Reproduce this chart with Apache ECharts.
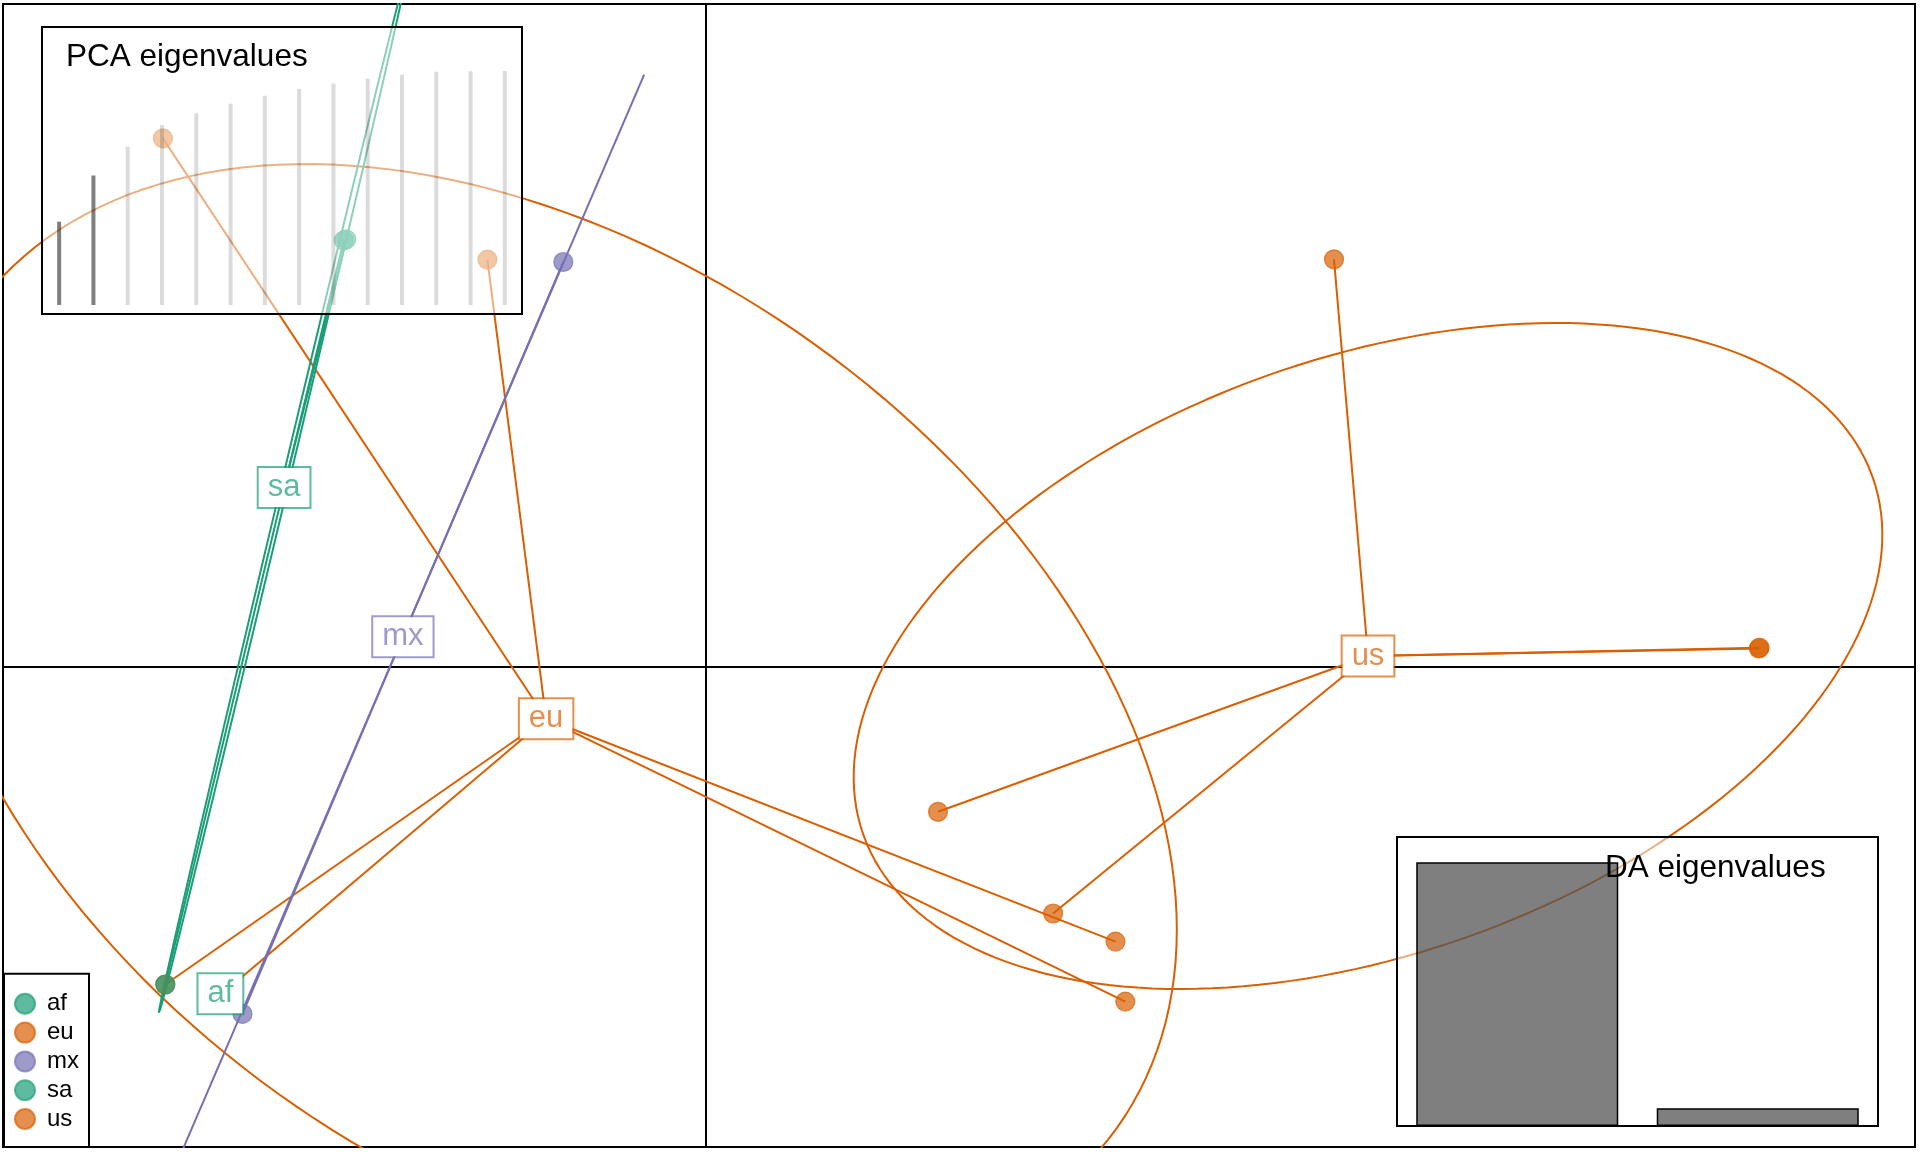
<!DOCTYPE html>
<html><head><meta charset="utf-8">
<script src="https://cdn.jsdelivr.net/npm/echarts/dist/echarts.min.js"></script>
<style>html,body{margin:0;padding:0;background:#fff}#c{width:1920px;height:1152px}</style>
</head><body><div id="c"></div>
<script>
// ---------------- data ----------------
const groups = ['af', 'eu', 'mx', 'sa', 'us'];
const groupColors = ['#1B9E77', '#D95F02', '#7570B3', '#1B9E77', '#D95F02'];

// discriminant function scores (LD1, LD2) of individuals, by group
const pointsAF = [[-4.849, -3.272]];
const pointsEU = [[-5.424, 5.281], [-2.179, 4.069], [-5.400, -3.180], [-4.837, -3.278], [4.102, -2.751], [4.200, -3.351]];
const pointsMX = [[-1.420, 4.045], [-4.628, -3.474]];
const pointsSA = [[-3.590, 4.272], [-3.615, 4.262], [-5.400, -3.180]];
const pointsUS = [[6.287, 4.072], [10.535, 0.180], [10.543, 0.188], [2.327, -1.453], [3.478, -2.470]];

// group centroids
const centroids = [[-4.849, -3.272], [-1.592, -0.523], [-3.024, 0.298], [-4.212, 1.791], [6.627, 0.105]];

// inertia ellipses: semi-major, semi-minor, angle (degrees)
const ellipseMajor = [0, 7.023, 6.116, 5.41, 5.354];
const ellipseMinor = [0, 4.608, 0, 0.035, 2.98];
const ellipseAngle = [0, -35.65, 66.77, 76.6, 19.53];

// PCA eigenvalues inset: cumulative variance (%), number of retained PCs
const pcaCumVar = [35.6, 55.3, 67.6, 76.9, 81.9, 86.0, 89.4, 92.3, 94.7, 96.7, 98.4, 99.7, 99.9, 100.0];
const pcaRetained = 2;
// DA eigenvalues inset
const daEigen = [100, 6.75];

// ---------------- chart ----------------
const FONT = '"Liberation Sans", Arial, Helvetica, sans-serif';
const groupPoints = [pointsAF, pointsEU, pointsMX, pointsSA, pointsUS];

function transp(hex, a) {
  const r = parseInt(hex.slice(1, 3), 16), g = parseInt(hex.slice(3, 5), 16), b = parseInt(hex.slice(5, 7), 16);
  return 'rgba(' + r + ',' + g + ',' + b + ',' + a + ')';
}
function ellipsePath(c, A, B, angDeg) {
  const th = angDeg * Math.PI / 180, ct = Math.cos(th), st = Math.sin(th);
  const out = [];
  for (let i = 0; i <= 200; i++) {
    const t = 2 * Math.PI * i / 200;
    out.push([c[0] + A * Math.cos(t) * ct - B * Math.sin(t) * st,
              c[1] + A * Math.cos(t) * st + B * Math.sin(t) * ct]);
  }
  return out;
}

const series = [];
// ellipses
groups.forEach((g, i) => {
  if (ellipseMajor[i] <= 0) return;
  series.push({
    type: 'line', name: g + '-ellipse', xAxisIndex: 0, yAxisIndex: 0,
    data: ellipsePath(centroids[i], ellipseMajor[i], ellipseMinor[i], ellipseAngle[i]),
    showSymbol: false, symbol: 'none', smooth: false, clip: true, silent: true,
    lineStyle: { color: groupColors[i], width: 2 }, z: 1
  });
});
// stars (centroid -> individuals)
groups.forEach((g, i) => {
  series.push({
    type: 'lines', name: g + '-star', coordinateSystem: 'cartesian2d', xAxisIndex: 0, yAxisIndex: 0,
    data: groupPoints[i].map(p => ({ coords: [centroids[i], p] })),
    lineStyle: { color: groupColors[i], width: 2, opacity: 1, curveness: 0 },
    silent: true, z: 1
  });
});
// individuals
groups.forEach((g, i) => {
  series.push({
    type: 'scatter', name: g, xAxisIndex: 0, yAxisIndex: 0,
    data: groupPoints[i], symbol: 'circle', symbolSize: 19,
    itemStyle: { color: transp(groupColors[i], 0.7), borderColor: transp(groupColors[i], 0.7), borderWidth: 1.2, opacity: 1 },
    silent: true, z: 2
  });
});
// group labels
series.push({
  type: 'scatter', name: 'labels', xAxisIndex: 0, yAxisIndex: 0,
  symbolSize: 1, itemStyle: { color: 'rgba(0,0,0,0)', opacity: 1 }, silent: true, z: 3,
  data: groups.map((g, i) => ({
    value: centroids[i],
    label: {
      show: true, position: 'inside', formatter: g,
      fontFamily: FONT, fontSize: 31, lineHeight: 31,
      color: transp(groupColors[i], 0.7),
      backgroundColor: '#fff', borderColor: transp(groupColors[i], 0.7), borderWidth: 2,
      padding: [4, 9, 4, 9]
    }
  }))
});
// PCA inset bars
series.push({
  type: 'bar', name: 'pca', xAxisIndex: 1, yAxisIndex: 1, barWidth: 4, silent: true, z: 6,
  data: pcaCumVar.map((v, i) => ({ value: v, itemStyle: { color: i < pcaRetained ? 'rgba(0,0,0,0.5)' : 'rgba(0,0,0,0.14)' } }))
});
// DA inset bars
series.push({
  type: 'bar', name: 'da', xAxisIndex: 2, yAxisIndex: 2, barWidth: '84%', silent: true, z: 6,
  data: daEigen,
  itemStyle: { color: 'rgba(0,0,0,0.5)', borderColor: '#000', borderWidth: 1.5 }
});

const hidden = { axisLine: { show: false }, axisTick: { show: false }, axisLabel: { show: false }, splitLine: { show: false } };

const option = {
  animation: false,
  backgroundColor: '#fff',
  grid: [
    { left: 3, top: 4, width: 1912, height: 1143, show: true, borderColor: '#000', borderWidth: 2, backgroundColor: 'transparent', z: 0, containLabel: false },
    { left: 42, top: 27, width: 480, height: 287, show: true, borderColor: '#000', borderWidth: 2, backgroundColor: 'rgba(255,255,255,0.5)', z: 5, containLabel: false },
    { left: 1397, top: 837, width: 481, height: 289, show: true, borderColor: '#000', borderWidth: 2, backgroundColor: 'rgba(255,255,255,0.5)', z: 5, containLabel: false }
  ],
  xAxis: [
    { type: 'value', gridIndex: 0, min: -7.023, max: 12.097, axisLine: { show: true, onZero: true, lineStyle: { color: '#000', width: 2 } }, axisTick: { show: false }, axisLabel: { show: false }, splitLine: { show: false }, z: 0 },
    Object.assign({ type: 'category', gridIndex: 1, data: pcaCumVar.map((v, i) => String(i + 1)) }, hidden),
    Object.assign({ type: 'category', gridIndex: 2, data: daEigen.map((v, i) => String(i + 1)) }, hidden)
  ],
  yAxis: [
    { type: 'value', gridIndex: 0, min: -4.805, max: 6.625, axisLine: { show: true, onZero: true, lineStyle: { color: '#000', width: 2 } }, axisTick: { show: false }, axisLabel: { show: false }, splitLine: { show: false }, z: 0 },
    Object.assign({ type: 'value', gridIndex: 1, min: -3.846, max: 118.8 }, hidden),
    Object.assign({ type: 'value', gridIndex: 2, min: 0, max: 109.6 }, hidden)
  ],
  title: [
    { text: 'PCA eigenvalues', left: 66, top: 41, padding: 0, z: 7, textStyle: { fontFamily: FONT, fontSize: 31.5, fontWeight: 'normal', color: '#000' } },
    { text: 'DA eigenvalues', left: 1605, top: 852, padding: 0, z: 7, textStyle: { fontFamily: FONT, fontSize: 31.5, fontWeight: 'normal', color: '#000' } }
  ],
  legend: {
    data: groups, orient: 'vertical', left: 4, bottom: 5, height: 150,
    itemWidth: 20, itemHeight: 20, itemGap: 4.8, icon: 'circle',
    padding: [18, 10, 16, 10], borderColor: '#000', borderWidth: 2, borderRadius: 0,
    backgroundColor: '#fff', selectedMode: false, z: 20,
    textStyle: { fontFamily: FONT, fontSize: 24, color: '#000', padding: [0, 0, 0, 7] }
  },
  tooltip: { show: false },
  series: series
};

const chart = echarts.init(document.getElementById('c'), null, { renderer: 'canvas' });
chart.setOption(option);
</script>
</body></html>
